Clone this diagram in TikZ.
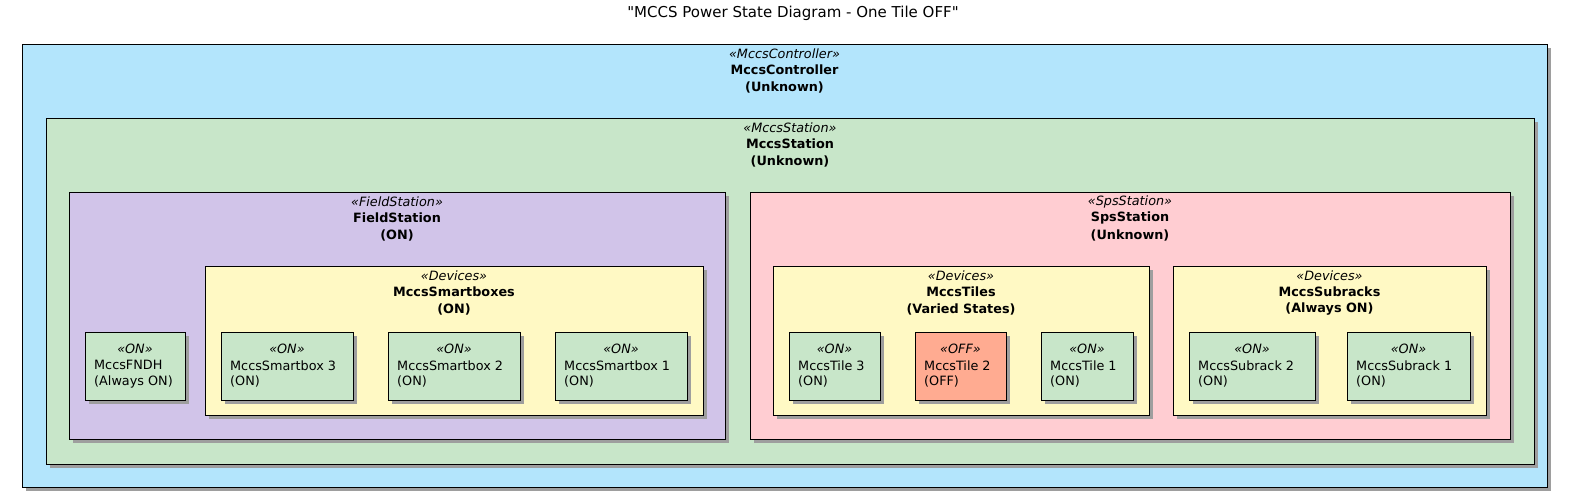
\documentclass[tikz,border=0pt]{standalone}
\usepackage{fontspec}
\setmainfont{DejaVu Sans}
\newfontfamily\tfont{DejaVu Sans}[Ligatures=ResetAll]
\begin{document}
\begin{tikzpicture}[x=1pt,y=-1pt,
  box/.style={draw=black,line width=0.9pt,anchor=north west,inner sep=0pt},
  lbl/.style={font=\fontsize{12.8}{15.5}\selectfont,inner sep=0pt,anchor=center},
  st/.style={lbl,font=\fontsize{12.8}{15.5}\selectfont\itshape},
  bn/.style={lbl,font=\fontsize{12.8}{15.5}\selectfont\bfseries}]
\useasboundingbox (0,0) rectangle (1587,503);
\definecolor{cblue}{HTML}{B3E5FC}
\definecolor{cgreen}{HTML}{C8E6C9}
\definecolor{cpurp}{HTML}{D1C4E9}
\definecolor{cpink}{HTML}{FFCDD2}
\definecolor{cyel}{HTML}{FFF9C4}
\definecolor{coff}{HTML}{FFAB91}
\definecolor{shad}{HTML}{9E9E9E}
\newcommand\cont[9]{%
  \fill[shad] (#2+4,#3+4) rectangle (#4+4,#5+4);
  \node[box,fill=#6,minimum width=#4-#2,minimum height=#5-#3] (#1) at (#2,#3) {};
  \node[st] (#1s) at ({(#2+#4)/2},#3+10) {«#7»};
  \node[bn] (#1n) at ({(#2+#4)/2},#3+26) {#8};
  \node[bn] (#1u) at ({(#2+#4)/2},#3+43) {#9};}
\newcommand\leaf[8]{%
  \fill[shad] (#2+4,#3+4) rectangle (#4+4,#5+4);
  \node[box,fill=#6,minimum width=#4-#2,minimum height=#5-#3] (#1) at (#2,#3) {};
  \node[st] (#1s) at ({(#2+#4)/2},#3+17) {«#7»};
  \node[lbl,anchor=west,align=left] (#1t) at (#2+9,#3+42) {#8};}
\node[font=\tfont\fontsize{15}{17}\selectfont] (title) at (793,13) {"MCCS Power State Diagram - One Tile OFF"};
\cont{ctrl}{22}{44}{1547}{487}{cblue}{MccsController}{MccsController}{(Unknown)}
\cont{stn}{46}{118}{1534}{464}{cgreen}{MccsStation}{MccsStation}{(Unknown)}
\cont{fs}{69}{192}{725}{439}{cpurp}{FieldStation}{FieldStation}{(ON)}
\cont{sps}{750}{192}{1510}{439}{cpink}{SpsStation}{SpsStation}{(Unknown)}
\cont{sb}{205}{266}{703}{415}{cyel}{Devices}{MccsSmartboxes}{(ON)}
\cont{tl}{773}{266}{1149}{415}{cyel}{Devices}{MccsTiles}{(Varied States)}
\cont{sr}{1173}{266}{1486}{415}{cyel}{Devices}{MccsSubracks}{(Always ON)}
\leaf{fndh}{85}{332}{185}{400}{cgreen}{ON}{MccsFNDH\\(Always ON)}
\leaf{sb3}{221}{332}{353}{400}{cgreen}{ON}{MccsSmartbox 3\\(ON)}
\leaf{sb2}{388}{332}{520}{400}{cgreen}{ON}{MccsSmartbox 2\\(ON)}
\leaf{sb1}{555}{332}{687}{400}{cgreen}{ON}{MccsSmartbox 1\\(ON)}
\leaf{t3}{789}{332}{880}{400}{cgreen}{ON}{MccsTile 3\\(ON)}
\leaf{t2}{915}{332}{1006}{400}{coff}{OFF}{MccsTile 2\\(OFF)}
\leaf{t1}{1041}{332}{1133}{400}{cgreen}{ON}{MccsTile 1\\(ON)}
\leaf{s2}{1189}{332}{1315}{400}{cgreen}{ON}{MccsSubrack 2\\(ON)}
\leaf{s1}{1347}{332}{1470}{400}{cgreen}{ON}{MccsSubrack 1\\(ON)}
\end{tikzpicture}
\end{document}
